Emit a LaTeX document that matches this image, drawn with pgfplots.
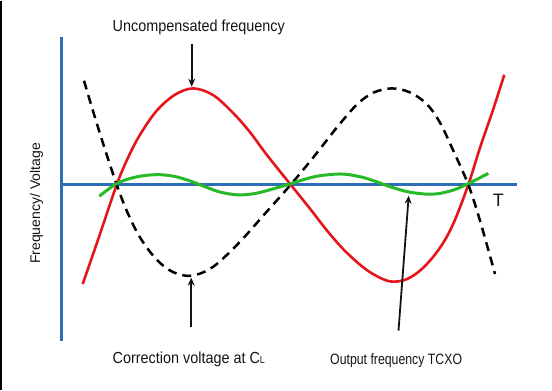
\documentclass[border=0pt]{standalone}
\usepackage{pgfplots}
\pgfplotsset{compat=1.18}
\usetikzlibrary{arrows.meta}
\usepackage{fontspec}
\setmainfont{Liberation Sans}
\newfontfamily\labelfont{Liberation Sans}[FakeStretch=0.9]
\newfontfamily\narrowfont{Liberation Sans}[FakeStretch=0.82]

\definecolor{axisblue}{RGB}{46,110,185}
\definecolor{curvered}{RGB}{228,22,28}
\definecolor{curvegreen}{RGB}{40,185,40}
\definecolor{textblack}{RGB}{20,20,20}

\begin{document}
\begin{tikzpicture}
\begin{axis}[
  scale only axis,
  width=552bp, height=389bp,
  xmin=0, xmax=552, ymin=0, ymax=389,
  y dir=reverse,
  axis lines=none,
  clip=false,
]
% page extent
\path (axis cs:0,0) rectangle (axis cs:552,389);
% left frame line
\draw[black, line width=1.4bp] (axis cs:0.8,0) -- (axis cs:0.8,389);

% coordinate axes
\addplot[axisblue, line width=3bp] coordinates {(61.7,36.7) (61.7,340)};
\addplot[axisblue, line width=3bp] coordinates {(61.7,183.3) (517,183.3)};

% uncompensated frequency
\addplot[curvered, line width=2.6bp, smooth, tension=0.55] coordinates {
(82.7,283.3) (100,233.3) (116.7,184) (128,157) (140,134) (156.7,110)
(175,94) (193.3,87.7) (213.3,94.5) (233.3,112.5) (250,131.5) (266.7,154)
(290.7,184) (310,208) (326.7,229.5) (343.3,248.5) (360,264) (373.3,273.5)
(390,280.7) (406.7,278.5) (423.3,267) (440,247) (453.3,223)
(468.3,184) (480,147) (493.3,108.3) (504.3,74)};

% correction voltage at C_L
\addplot[black, line width=2.5bp, smooth, tension=0.55, dash pattern=on 9bp off 6bp] coordinates {
(84,80) (92,107) (100,133) (108,158) (116.7,184) (126.7,210) (140,236.7)
(156.7,259) (173.3,271.5) (191.7,275) (213.3,266) (240,241) (266.7,211)
(290.7,184) (313.3,156.7) (336.7,127) (356.7,104) (373.3,92)
(391.7,87.7) (410,91.7) (426.7,103.3) (440,122) (453.3,150) (468.3,184)
(480,220) (495,273.3)};

% output frequency TCXO
\addplot[curvegreen, line width=3bp, smooth, tension=0.55] coordinates {
(99.3,195.5) (116,183.3) (130,177.8) (145,174.8) (160,174) (175,175.8)
(190,180.2) (205,186) (220,191.3) (238,194.2) (255,192.8) (272,188.5)
(291.7,182.7) (305,178.5) (320,175) (341.7,173.3) (360,176) (375,180.5)
(390,186) (410,191.5) (433,193.5) (453,189.5) (468.7,182.7) (488.3,172.7)};

% pointer arrows
\draw[textblack, line width=1.8bp, -{Stealth[length=8bp,width=7bp]}]
  (axis cs:191.7,43) -- (axis cs:191.7,86);
\draw[textblack, line width=1.8bp, -{Stealth[length=8bp,width=7bp]}]
  (axis cs:191.2,326) -- (axis cs:191.2,277);
\draw[textblack, line width=1.8bp, -{Stealth[length=8bp,width=7bp]}]
  (axis cs:398.5,330) -- (axis cs:408.7,195);

% labels
\node[anchor=base west, inner sep=0pt, text=textblack, font=\labelfont\fontsize{16bp}{18bp}\selectfont]
  at (axis cs:112.5,30.7) {Uncompensated frequency};
\node[anchor=base west, inner sep=0pt, text=textblack, font=\labelfont\fontsize{16bp}{18bp}\selectfont]
  at (axis cs:112.5,362.3) {Correction voltage at C{\fontsize{10bp}{11bp}\selectfont L}};
\node[anchor=base west, inner sep=0pt, text=textblack, font=\narrowfont\fontsize{15bp}{17bp}\selectfont]
  at (axis cs:330,363.3) {Output frequency TCXO};
\node[anchor=base west, inner sep=0pt, rotate=90, text=textblack, font=\fontsize{14bp}{16bp}\selectfont]
  at (axis cs:40,263.3) {Frequency/ Voltage};
\node[anchor=base, inner sep=0pt, text=textblack, font=\fontsize{18bp}{20bp}\selectfont]
  at (axis cs:498.3,206) {T};
\end{axis}
\end{tikzpicture}
\end{document}
